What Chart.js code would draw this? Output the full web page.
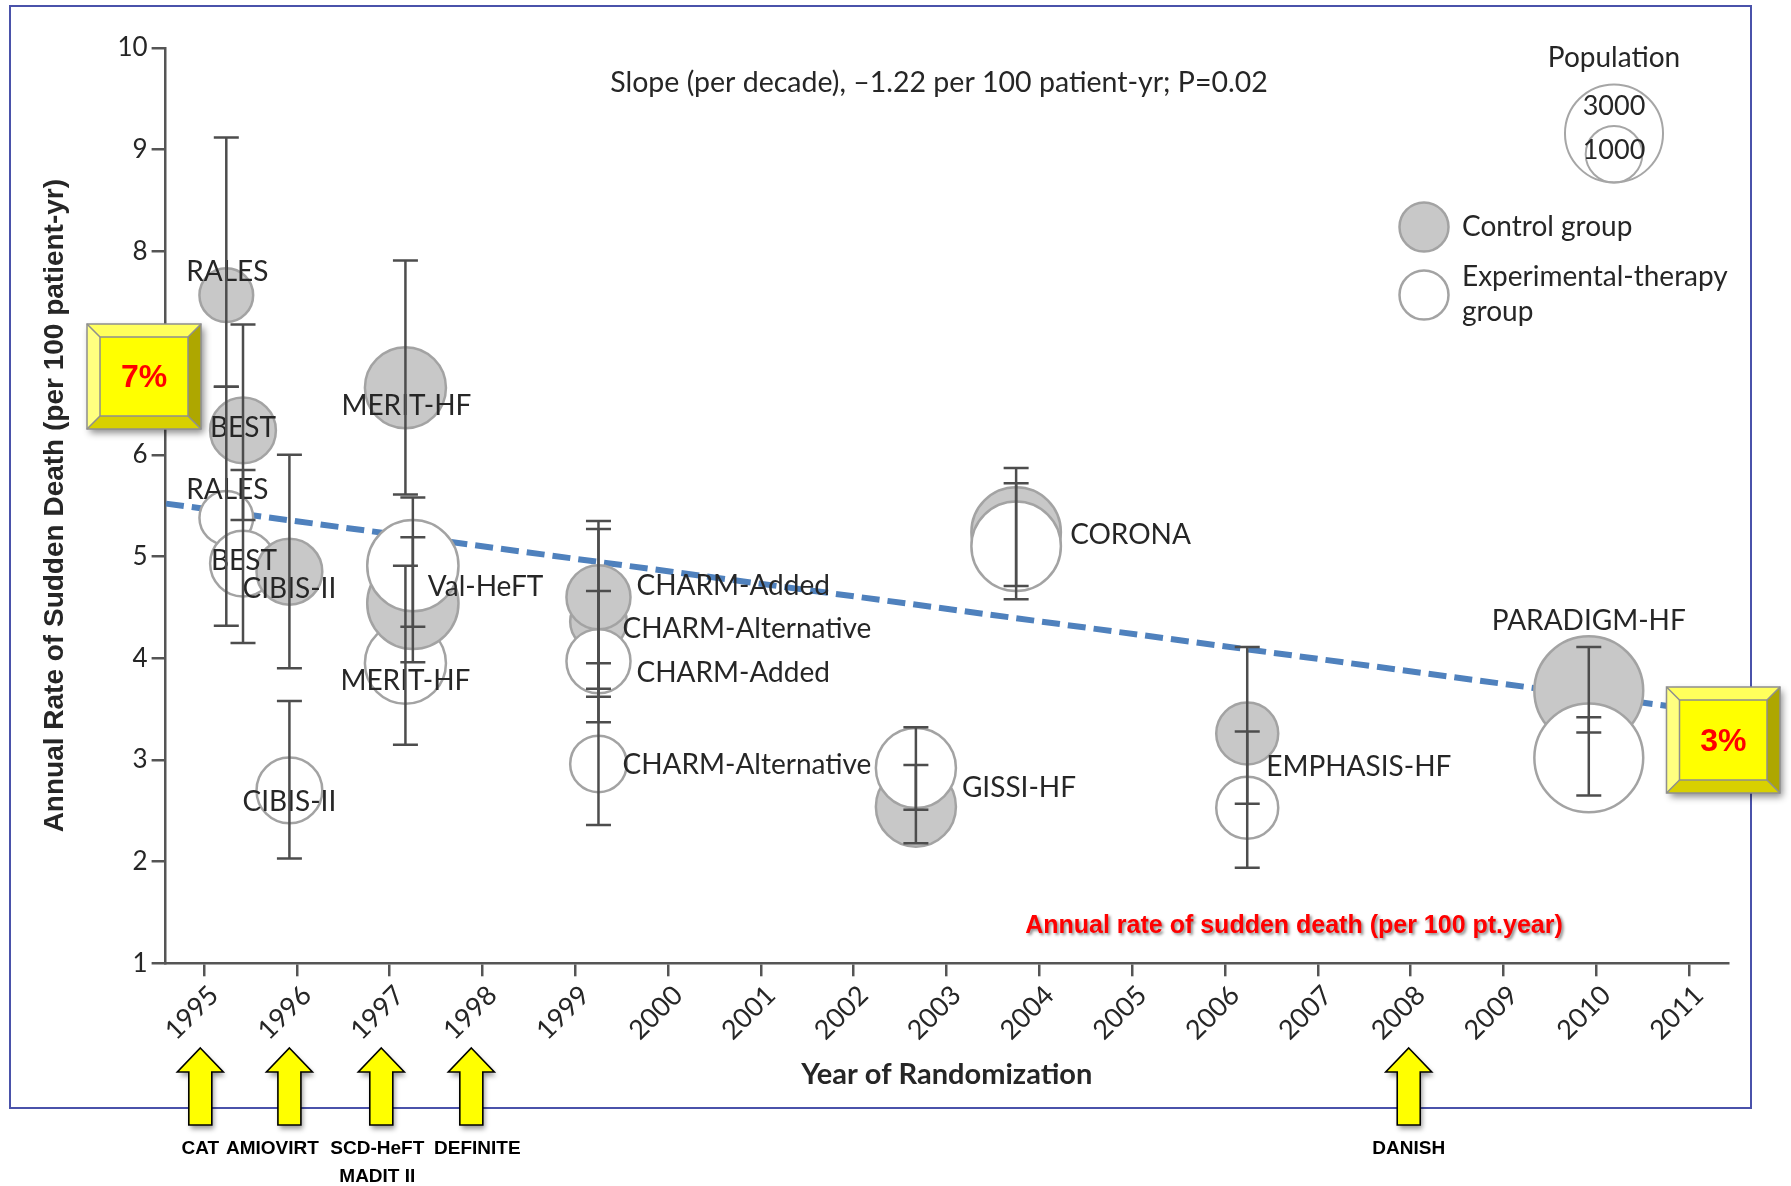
<!DOCTYPE html>
<html>
<head>
<meta charset="utf-8">
<title>Annual Rate of Sudden Death by Year of Randomization</title>
<script src="https://cdn.jsdelivr.net/npm/chart.js@4/dist/chart.umd.min.js"></script>
<style>
  html, body { margin: 0; padding: 0; background: #ffffff; }
  #wrap { position: relative; width: 1791px; height: 1186px; }
  canvas { display: block; }
</style>
</head>
<body>
<div id="wrap"><canvas id="chart" width="1791" height="1186"></canvas></div>
<script>
// ---- Trial data (stacking order: later entries are drawn on top) ----
const trials = ['RALES', 'BEST', 'CIBIS-II', 'MERIT-HF', 'Val-HeFT', 'CHARM-Alternative',
                'CHARM-Added', 'GISSI-HF', 'CORONA', 'EMPHASIS-HF', 'PARADIGM-HF'];
const randomizationYear = [1995.24, 1995.42, 1995.92, 1997.17, 1997.25, 1999.25,
                           1999.25, 2002.67, 2003.75, 2006.24, 2009.92];

// Control group: annual sudden-death rate per 100 patient-yr, 95% CI, patients
const controlRate     = [7.57, 6.24, 4.85, 6.66, 4.54, 4.36, 4.60, 2.54, 5.24, 3.26, 3.68];
const controlLower    = [6.67, 5.36, 3.90, 5.61, 3.96, 3.62, 3.70, 2.18, 4.71, 2.57, 3.27];
const controlUpper    = [9.12, 7.28, 6.00, 7.91, 5.19, 5.27, 5.35, 2.95, 5.87, 4.11, 4.11];
const controlPatients = [900, 1350, 1350, 2050, 2600, 1000, 1280, 2000, 2500, 1200, 3700];

// Experimental-therapy group
const experimentalRate     = [5.38, 4.93, 2.70, 3.95, 4.91, 2.96, 3.97, 2.92, 5.10, 2.53, 3.02];
const experimentalLower    = [4.32, 4.15, 2.03, 3.15, 4.31, 2.36, 3.37, 2.51, 4.58, 1.94, 2.65];
const experimentalUpper    = [6.67, 5.85, 3.58, 4.91, 5.58, 3.95, 4.66, 3.32, 5.72, 3.28, 3.42];
const experimentalPatients = [900, 1350, 1350, 2050, 2600, 1000, 1280, 2000, 2500, 1200, 3700];

// Fitted trend (slope -1.22 per decade)
const trendYears = [1994.59, 2011.42];
const trendRates = [5.52, 3.45];

// Axis ticks
const yearTicks = [1995, 1996, 1997, 1998, 1999, 2000, 2001, 2002, 2003,
                   2004, 2005, 2006, 2007, 2008, 2009, 2010, 2011];
const rateTicks = [1, 2, 3, 4, 5, 6, 7, 8, 9, 10];

// Population key
const legendPopulations = [3000, 1000];

// ICD trials marked under the year axis
const deviceTrials = [['CAT'], ['AMIOVIRT'], ['SCD-HeFT', 'MADIT II'], ['DEFINITE'], ['DANISH']];
const deviceTrialYears = [1994.96, 1995.92, 1996.91, 1997.88, 2007.98];

// Highlighted rates at the start and end of the period
const highlightTexts = ['7%', '3%'];

// ---- Layout / style (pixels) ----
const BUBBLE_K = 0.895;                       // radius px per sqrt(patient)
const bubbleRadius = n => BUBBLE_K * Math.sqrt(n);
const TEXT = '#262626';
const AXIS = '#555555';
const LABEL_FONT = '28px Lato, "Open Sans", sans-serif';

// name label placement relative to each bubble centre
const controlLabelPos = [
  {dx: 1, dy: -23, align: 'center'},  // RALES
  {dx: 0, dy: -2, align: 'center'},   // BEST
  {dx: 0, dy: 17, align: 'center'},   // CIBIS-II
  {dx: 1, dy: 18, align: 'center'},   // MERIT-HF
  null,                               // Val-HeFT
  {dx: 24, dy: 7, align: 'left'},     // CHARM-Alternative
  {dx: 38, dy: -11, align: 'left'},   // CHARM-Added
  null,                               // GISSI-HF
  {dx: 54, dy: 3, align: 'left'},     // CORONA
  {dx: 19, dy: 34, align: 'left'},    // EMPHASIS-HF
  {dx: 0, dy: -70, align: 'center'}   // PARADIGM-HF
];
const experimentalLabelPos = [
  {dx: 1, dy: -28, align: 'center'},
  {dx: 1, dy: -3, align: 'center'},
  {dx: 0, dy: 12, align: 'center'},
  {dx: 0, dy: 18, align: 'center'},
  {dx: 15, dy: 21, align: 'left'},
  {dx: 24, dy: 1, align: 'left'},
  {dx: 38, dy: 12, align: 'left'},
  {dx: 46, dy: 20, align: 'left'},
  null, null, null
];
const deviceLabelShift = [0, -17, -4, 6, 0];

// ---- Build the bubble table from the arrays ----
const armPoints = [];
trials.forEach((name, i) => {
  armPoints.push({x: randomizationYear[i], y: controlRate[i], r: bubbleRadius(controlPatients[i]),
                  lo: controlLower[i], hi: controlUpper[i], arm: 'control', name, label: controlLabelPos[i]});
  armPoints.push({x: randomizationYear[i], y: experimentalRate[i], r: bubbleRadius(experimentalPatients[i]),
                  lo: experimentalLower[i], hi: experimentalUpper[i], arm: 'experimental', name, label: experimentalLabelPos[i]});
});
const trendPoints = trendYears.map((x, i) => ({x, y: trendRates[i]}));

// ---- Drawing helpers ----
function bevelBox(c, x, y, w, h, text) {
  const b = 13;
  c.save();
  c.shadowColor = 'rgba(0,0,0,0.45)';
  c.shadowBlur = 7; c.shadowOffsetX = 3; c.shadowOffsetY = 4;
  c.fillStyle = '#ffff00';
  c.fillRect(x, y, w, h);
  c.restore();
  const quad = (pts, col) => {
    c.beginPath(); c.moveTo(pts[0][0], pts[0][1]);
    for (let k = 1; k < pts.length; k++) c.lineTo(pts[k][0], pts[k][1]);
    c.closePath(); c.fillStyle = col; c.fill();
  };
  const X2 = x + w, Y2 = y + h;
  quad([[x, y], [X2, y], [X2 - b, y + b], [x + b, y + b]], '#ffff5c');
  quad([[x, y], [x + b, y + b], [x + b, Y2 - b], [x, Y2]], '#ffff80');
  quad([[X2, y], [X2, Y2], [X2 - b, Y2 - b], [X2 - b, y + b]], '#aea700');
  quad([[x, Y2], [x + b, Y2 - b], [X2 - b, Y2 - b], [X2, Y2]], '#d8d000');
  c.fillStyle = '#ffff00';
  c.fillRect(x + b, y + b, w - 2 * b, h - 2 * b);
  c.strokeStyle = '#8f8f8f'; c.lineWidth = 1.5;
  c.strokeRect(x, y, w, h);
  c.strokeRect(x + b, y + b, w - 2 * b, h - 2 * b);
  c.beginPath();
  c.moveTo(x, y); c.lineTo(x + b, y + b);
  c.moveTo(X2, y); c.lineTo(X2 - b, y + b);
  c.moveTo(x, Y2); c.lineTo(x + b, Y2 - b);
  c.moveTo(X2, Y2); c.lineTo(X2 - b, Y2 - b);
  c.stroke();
  c.fillStyle = '#ff0000';
  c.font = 'bold 32px "Liberation Sans", Arial, sans-serif';
  c.textAlign = 'center'; c.textBaseline = 'middle';
  c.fillText(text, x + w / 2, y + h / 2 + 2);
}

function upArrow(c, cx, tipY) {
  const hw = 23, sw = 11.5, headH = 24, len = 77;
  c.save();
  c.beginPath();
  c.moveTo(cx, tipY);
  c.lineTo(cx + hw, tipY + headH);
  c.lineTo(cx + sw, tipY + headH);
  c.lineTo(cx + sw, tipY + len);
  c.lineTo(cx - sw, tipY + len);
  c.lineTo(cx - sw, tipY + headH);
  c.lineTo(cx - hw, tipY + headH);
  c.closePath();
  c.shadowColor = 'rgba(0,0,0,0.4)';
  c.shadowBlur = 5; c.shadowOffsetX = 2; c.shadowOffsetY = 4;
  c.fillStyle = '#ffff00';
  c.fill();
  c.shadowColor = 'transparent';
  c.strokeStyle = '#000000'; c.lineWidth = 1.6; c.lineJoin = 'miter';
  c.stroke();
  c.restore();
}

const decorations = {
  id: 'decorations',
  beforeDraw(chart) {
    const c = chart.ctx;
    c.save();
    c.fillStyle = '#ffffff';
    c.fillRect(0, 0, chart.width, chart.height);
    c.strokeStyle = '#4a52aa'; c.lineWidth = 2;
    c.strokeRect(10, 6, 1741, 1102);
    c.restore();
  },
  afterDatasetsDraw(chart) {
    const c = chart.ctx, xs = chart.scales.x, ys = chart.scales.y;
    c.save();
    // trial names
    c.font = LABEL_FONT;
    c.fillStyle = TEXT; c.textBaseline = 'middle';
    armPoints.forEach(p => {
      if (!p.label) return;
      c.textAlign = p.label.align;
      c.fillText(p.name, xs.getPixelForValue(p.x) + p.label.dx, ys.getPixelForValue(p.y) + p.label.dy);
    });
    // 95% confidence intervals
    c.strokeStyle = '#4d4d4d'; c.lineWidth = 2.5; c.lineCap = 'butt';
    armPoints.forEach(p => {
      const px = xs.getPixelForValue(p.x);
      const yl = ys.getPixelForValue(p.lo), yh = ys.getPixelForValue(p.hi);
      c.beginPath();
      c.moveTo(px, yl); c.lineTo(px, yh);
      c.moveTo(px - 12.5, yl); c.lineTo(px + 12.5, yl);
      c.moveTo(px - 12.5, yh); c.lineTo(px + 12.5, yh);
      c.stroke();
    });
    c.restore();
  },
  afterDraw(chart) {
    const c = chart.ctx, xs = chart.scales.x, area = chart.chartArea;
    c.save();
    // slope annotation
    c.font = '28.5px Lato, "Open Sans", sans-serif';
    c.fillStyle = TEXT; c.textAlign = 'center'; c.textBaseline = 'middle';
    c.fillText('Slope (per decade), \u20131.22 per 100 patient-yr; P=0.02', 939, 83);

    // population key
    c.font = LABEL_FONT;
    c.fillText('Population', 1614, 58);
    const keyBottom = 182.5;
    c.strokeStyle = '#a6a6a6'; c.lineWidth = 2;
    legendPopulations.forEach(n => {
      const r = bubbleRadius(n);
      c.beginPath(); c.arc(1614, keyBottom - r, r, 0, Math.PI * 2); c.stroke();
    });
    c.font = '27px Lato, "Open Sans", sans-serif';
    c.fillText(String(legendPopulations[0]), 1614, 106);
    c.fillText(String(legendPopulations[1]), 1614, 150);

    // group key
    c.lineWidth = 2.5; c.strokeStyle = '#a3a3a3';
    c.beginPath(); c.arc(1424, 227, 24.5, 0, Math.PI * 2);
    c.fillStyle = '#c8c8c8'; c.fill(); c.stroke();
    c.beginPath(); c.arc(1424, 295, 24.5, 0, Math.PI * 2);
    c.fillStyle = '#ffffff'; c.fill(); c.stroke();
    c.font = LABEL_FONT;
    c.fillStyle = TEXT; c.textAlign = 'left';
    c.fillText('Control group', 1462, 227);
    c.fillText('Experimental-therapy', 1462, 277);
    c.fillText('group', 1462, 312);

    // axis titles
    c.textAlign = 'center';
    c.font = 'bold 29px Lato, "Open Sans", sans-serif';
    c.fillText('Year of Randomization', (area.left + area.right) / 2, 1075);
    c.save();
    c.translate(55, (area.top + area.bottom) / 2);
    c.rotate(-Math.PI / 2);
    c.font = 'bold 28px "Liberation Sans", Arial, sans-serif';
    c.fillText('Annual Rate of Sudden Death (per 100 patient-yr)', 0, 0);
    c.restore();

    // red note
    c.save();
    c.font = 'bold 25px "Liberation Sans", Arial, sans-serif';
    c.shadowColor = 'rgba(0,0,0,0.45)';
    c.shadowBlur = 3; c.shadowOffsetX = 2; c.shadowOffsetY = 2;
    c.fillStyle = '#ff0000';
    c.fillText('Annual rate of sudden death (per 100 pt.year)', 1294, 926);
    c.restore();

    // highlighted rates
    bevelBox(c, 87, 324, 114, 105, highlightTexts[0]);
    bevelBox(c, 1666.5, 687, 113.5, 106, highlightTexts[1]);

    // ICD trials
    c.font = 'bold 19px "Liberation Sans", Arial, sans-serif';
    c.fillStyle = '#000000';
    deviceTrialYears.forEach((yr, i) => {
      const cx = xs.getPixelForValue(yr);
      upArrow(c, cx, 1048);
      deviceTrials[i].forEach((line, k) => {
        c.fillText(line, cx + deviceLabelShift[i], 1149 + k * 28);
      });
    });
    c.restore();
  }
};

new Chart(document.getElementById('chart').getContext('2d'), {
  type: 'bubble',
  data: {
    datasets: [
      {
        type: 'bubble',
        label: 'Trial arms',
        data: armPoints,
        order: 0,
        backgroundColor: ctx => (ctx.raw && ctx.raw.arm === 'control') ? '#c8c8c8' : '#ffffff',
        borderColor: '#a3a3a3',
        borderWidth: 2.5,
        clip: false
      },
      {
        type: 'line',
        label: 'Trend',
        data: trendPoints,
        order: 1,
        borderColor: '#4f81bd',
        borderWidth: 6,
        borderDash: [18, 8],
        pointRadius: 0,
        fill: false,
        tension: 0
      }
    ]
  },
  options: {
    responsive: false,
    animation: false,
    devicePixelRatio: 1,
    events: [],
    layout: { autoPadding: false, padding: { left: 0, top: 48, right: 63, bottom: 142.7 } },
    plugins: { legend: { display: false }, tooltip: { enabled: false } },
    scales: {
      x: {
        type: 'linear',
        min: 1994.586,
        max: 2011.42,
        afterFit: s => { s.height = 80; },
        afterBuildTicks: s => { s.ticks = yearTicks.map(v => ({ value: v })); },
        ticks: {
          autoSkip: false, minRotation: 45, maxRotation: 45, padding: 3, labelOffset: 10,
          color: TEXT, font: { family: 'Lato, "Open Sans", sans-serif', size: 27 },
          callback: v => String(v)
        },
        grid: { drawOnChartArea: false, drawTicks: true, tickLength: 13, color: AXIS, lineWidth: 2.5 },
        border: { display: true, color: AXIS, width: 2.5 }
      },
      y: {
        type: 'linear',
        min: 1,
        max: 10,
        afterFit: s => { s.width = 165.6; },
        afterBuildTicks: s => { s.ticks = rateTicks.map(v => ({ value: v })); },
        ticks: {
          padding: 4, color: TEXT,
          font: { family: 'Lato, "Open Sans", sans-serif', size: 26 },
          callback: v => String(v)
        },
        grid: { drawOnChartArea: false, drawTicks: true, tickLength: 14, color: AXIS, lineWidth: 2.5 },
        border: { display: true, color: AXIS, width: 2.5 }
      }
    }
  },
  plugins: [decorations]
});
</script>
</body>
</html>
